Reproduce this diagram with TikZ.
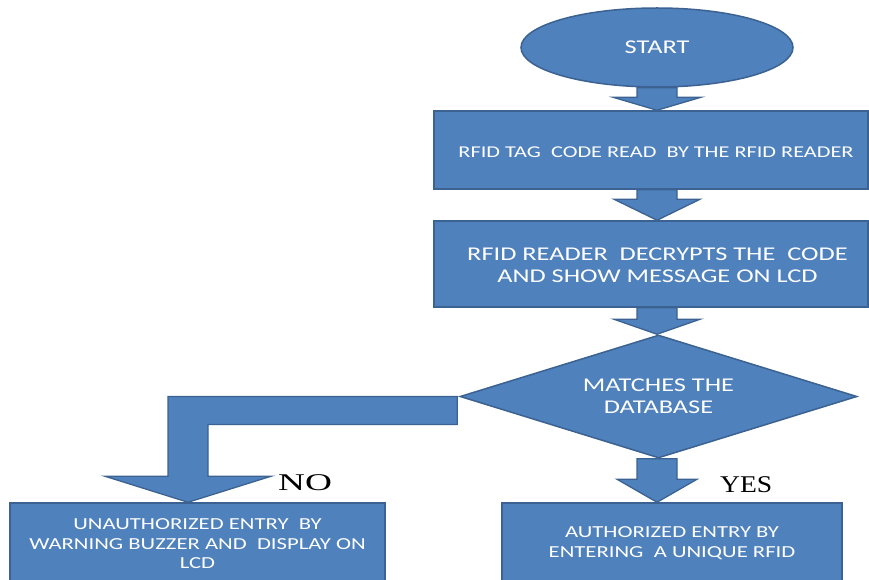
\documentclass[tikz,border=0pt]{standalone}
\usepackage{fontspec}
\usepackage{graphicx}
\setmainfont{Carlito}[FakeStretch=1.35]
\newfontfamily\labelserif{Liberation Serif}[FakeStretch=1.35]
\usetikzlibrary{shapes.geometric,calc,backgrounds}
\definecolor{boxfill}{HTML}{4F81BD}
\definecolor{boxline}{HTML}{3B6290}
\tikzset{
  flowbox/.style={draw=boxline, fill=boxfill, line width=1.5pt, rectangle, inner sep=0pt, text=white, align=center},
  boxtext/.style={text=white, align=center, inner sep=0pt},
  blockarrow/.style={draw=boxline, fill=boxfill, line width=1.3pt, line join=miter},
  answer/.style={text=black, inner sep=0pt, anchor=base west, font=\labelserif\fontsize{24}{28}\selectfont},
  bigfont/.style={font=\fontsize{19.5}{22}\selectfont},
  midfont/.style={font=\fontsize{16.5}{20}\selectfont},
  smallfont/.style={font=\fontsize{16.8}{19.5}\selectfont},
}
% #1 start, #2 tip, #3 shaft half width, #4 head half width, #5 head length
\newcommand\blockdownarrow[5]{%
  \draw[blockarrow] ($(#1)+(-#3,0)$) -- ($(#1)+(#3,0)$) -- ($(#2)+(#3,-#5)$) -- ($(#2)+(#4,-#5)$)
    -- (#2) -- ($(#2)+(-#4,-#5)$) -- ($(#2)+(-#3,-#5)$) -- cycle;}
\begin{document}
\begin{tikzpicture}[x=1pt,y=-1pt]
\useasboundingbox (0,0) rectangle (869,580);

\node[flowbox, ellipse, minimum width=272, minimum height=79, bigfont] (start) at (657,47.5) {START};

\node[flowbox, minimum width=434, minimum height=78] (read) at (651,150) {};
\node[boxtext, midfont] (readtext) at (656,152) {RFID TAG\ \ CODE READ\ \ BY THE RFID READER};

\node[flowbox, minimum width=434, minimum height=86] (decrypt) at (651,264) {};
\node[boxtext, bigfont] (decrypttext) at (657.5,265) {RFID READER\ \ DECRYPTS THE\ \ CODE\\AND SHOW MESSAGE ON LCD};

\node[flowbox, diamond, aspect=3.2, minimum width=397, minimum height=123, bigfont] (match) at (658.5,396.5) {MATCHES THE\\DATABASE};

\node[flowbox, minimum width=375, minimum height=82, smallfont] (unauth) at (197.5,544) {UNAUTHORIZED ENTRY\ \ BY\\WARNING BUZZER AND\ \ DISPLAY ON\\LCD};

\node[flowbox, minimum width=340, minimum height=80, smallfont] (auth) at (672,543) {AUTHORIZED ENTRY BY\\ENTERING\ \ A UNIQUE RFID};

\node[answer] (nolabel) at (278,490) {\scalebox{1.15}[1]{NO}};
\node[answer] (yeslabel) at (720,492) {\scalebox{0.85}[1]{YES}};

\begin{pgfonlayer}{background}
  \coordinate (t1) at (start.south |- read.north);
  \blockdownarrow{start.south}{t1}{20}{44}{13}
  \coordinate (s2) at (start.south |- read.south);
  \coordinate (t2) at (start.south |- decrypt.north);
  \blockdownarrow{s2}{t2}{20}{43}{21}
  \coordinate (s3) at (start.south |- decrypt.south);
  \coordinate (t3) at (start.south |- match.north);
  \blockdownarrow{s3}{t3}{20}{43}{15}
  \coordinate (s4) at (start.south |- match.south);
  \coordinate (t4) at (start.south |- auth.north);
  \blockdownarrow{s4}{t4}{20}{40}{23}
  \coordinate (notip) at ($(unauth.north)+(-9.5,0)$);
  \coordinate (nobend) at (notip |- match.west);
  \draw[blockarrow] ($(match.west)+(-2,0)$) -- ($(nobend)+(-20,0)$) -- ($(notip)+(-20,-26)$)
    -- ($(notip)+(-83,-26)$) -- (notip) -- ($(notip)+(83,-26)$) -- ($(notip)+(20,-26)$)
    -- ($(nobend)+(20,28)$) -- ($(match.west)+(-2,28)$) -- cycle;
\end{pgfonlayer}
\end{tikzpicture}
\end{document}
